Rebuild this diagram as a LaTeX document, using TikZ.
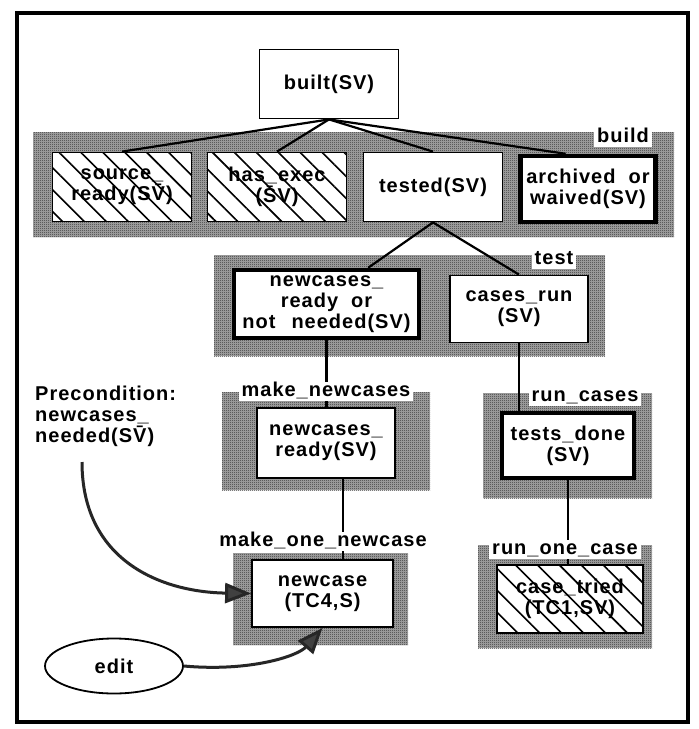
\documentclass[tikz,border=0pt]{standalone}
\usepackage{fontspec}
\newfontfamily\lbl{Liberation Sans}[LetterSpace=5,WordSpace=2]
\usetikzlibrary{arrows.meta,shapes.geometric,calc,patterns,patterns.meta}

% fine stipple laid over the grey of the task bands
\pgfdeclarepatternformonly{checker}{\pgfpointorigin}{\pgfpoint{2pt}{2pt}}{\pgfpoint{2pt}{2pt}}{%
  \pgfpathrectangle{\pgfpointorigin}{\pgfpoint{1pt}{1pt}}%
  \pgfpathrectangle{\pgfpoint{1pt}{1pt}}{\pgfpoint{1pt}{1pt}}%
  \pgfusepath{fill}}

\pgfdeclarelayer{bands}
\pgfdeclarelayer{links}
\pgfsetlayers{bands,links,main}

\begin{document}
\begin{tikzpicture}[x=1pt,y=-1pt,
  every node/.style={font=\lbl\bfseries\fontsize{20}{21}\selectfont},
  band/.style={fill=black!34, postaction={pattern=checker, pattern color=black!80}},
  box/.style={draw, fill=white, line width=1.8pt, align=center,
    minimum width=139pt, minimum height=69pt, inner sep=2pt},
  heavy/.style={box, line width=4.5pt},
  hatched/.style={box, postaction={pattern={Lines[angle=-45,distance=15.5pt,line width=1.6pt]}}},
  tag/.style={fill=white, inner xsep=3pt, inner ysep=1pt, text height=14pt, text depth=3pt},
  link/.style={line width=2.2pt},
  flow/.style={line width=3pt, draw=black!85, -{Triangle[length=26pt,width=20pt,fill=black!75]}}
]
\useasboundingbox (0,0) rectangle (699,729);

% outer frame
\draw[line width=3.5pt] (17,13) rectangle (688,722);

% decision boxes
\node[box]                      (built) at (329,84)    {built(SV)};
\node[hatched]                  (src)   at (122,187)   {source\_\\ready(S\=V)};
\node[hatched]                  (exe)   at (277,187)   {has\_exec\\(\=SV)};
\node[box]                      (tst)   at (433,187)   {tested(SV)};
\node[heavy, minimum width=135pt, minimum height=66pt] (arc) at (588,189) {archived or\\waived(SV)};
\node[heavy, minimum width=185pt, minimum height=68pt] (nro) at (326.5,304) {newcases\_\\ready or\\not\hspace{16pt}needed(SV)};
\node[box, minimum width=138pt, minimum height=67pt] (crun) at (519,309) {cases\_run\\(SV)};
\node[box, minimum width=138pt, minimum height=70pt] (nrdy) at (326,443) {newcases\_\\ready(SV)};
\node[heavy, minimum width=132pt, minimum height=65pt] (tdone) at (568,445.5) {tests\_done\\(SV)};
\node[box, minimum width=141pt, minimum height=67pt] (ncase) at (322.5,593.5) {newcase\\(TC4,S)};
\node[hatched, minimum width=146pt, minimum height=68pt] (ctry) at (570,599) {case\_tried\\(TC1,SV)};

% task bands
\begin{pgfonlayer}{bands}
  \fill[white] (0,0) rectangle (699,729);
  \path[band] (33,132)  rectangle (674,237);
  \path[band] (214,255) rectangle (605,356);
  \path[band] (222,392) rectangle (430,490);
  \path[band] (483,393) rectangle (652,498);
  \path[band] (233,553) rectangle (408,645);
  \path[band] (478,545) rectangle (652,648);
\end{pgfonlayer}

% task names
\node[tag] (tbuild) at (623,137) {build};
\node[tag] (ttest)  at (554,259) {test};
\node[tag] (tmknew) at (326,391) {make\_newcases};
\node[tag] (trun)   at (585,396) {run\_cases};
\node[tag] (tmkone) at (323,541) {make\_one\_newcase};
\node[tag] (trone)  at (565,549) {run\_one\_case};

% precondition and the edit tool
\node[anchor=north west, align=left, inner sep=0pt] (pre) at (35,386)
  {Precondition:\\newcases\_\\needed(S\=V)};
\node[draw, ellipse, line width=1.8pt, minimum width=138pt, minimum height=55pt,
  inner sep=0pt] (edit) at (114,666) {edit};
\coordinate (pstart) at (82,462);

% decomposition links
\begin{pgfonlayer}{links}
  \draw[link] (built.south) -- (src.north);
  \draw[link] (built.south) -- (exe.north);
  \draw[link] (built.south) -- (tst.north);
  \draw[link] (built.south) -- ($(arc.north west)!0.34!(arc.north east)$);
  \draw[link] (tst.south) -- ($(nro.north west)!0.72!(nro.north east)$);
  \draw[link] (tst.south) -- (crun.north);
  \draw[link] (nro.south) -- (nro.south |- nrdy.north);
  \draw[link] (crun.south) -- (crun.south |- tdone.north);
  \draw[link] ($(nrdy.south west)!0.62!(nrdy.south east)$) coordinate (nrb)
     -- (nrb |- ncase.north);
  \draw[link] (tdone.south) -- (tdone.south |- ctry.north);
\end{pgfonlayer}

% inputs to newcase
\draw[flow] (pstart) .. controls (82,560) and (160,592) .. (ncase.west);
\draw[flow] (edit.east) .. controls (250,672) and (298,656) .. (ncase.south);
\end{tikzpicture}
\end{document}
